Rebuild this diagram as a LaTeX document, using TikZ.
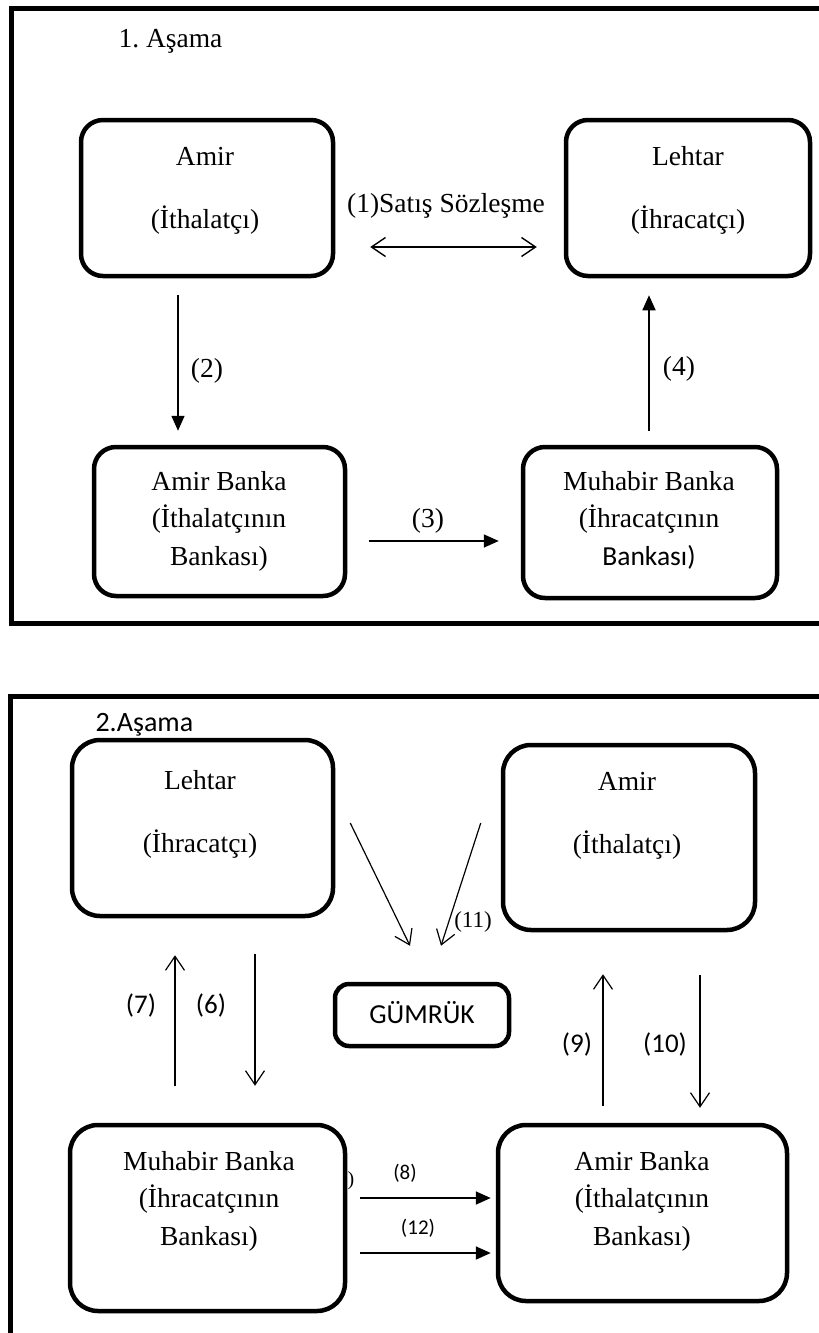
\documentclass[tikz,border=0pt]{standalone}
\usepackage{fontspec}
\setmainfont{Liberation Serif}
\newfontfamily\calibri{Carlito}
\usetikzlibrary{positioning, arrows.meta, calc}

\tikzset{
  kutu/.style={draw, line width=4.5pt, rounded corners=22pt, inner sep=0pt},
  kutub/.style={kutu, rounded corners=28pt},
  yazi/.style={align=center, anchor=base, font={\fontsize{27.5}{37.5}\selectfont}},
  ikiyazi/.style={yazi, font={\fontsize{27.5}{63}\selectfont}},
  etiket/.style={anchor=base, font={\fontsize{27.5}{33}\selectfont}},
  sans/.style={anchor=base, font={\calibri\fontsize{27}{33}\selectfont}},
  kucuk/.style={anchor=base, font={\calibri\fontsize{21}{25}\selectfont}},
  dolu/.style={line width=1.6pt, -{Triangle[length=15pt,width=13pt]}},
  acik/.style={line width=1.2pt, -{Straight Barb[length=14pt,width=19pt]}},
}

\begin{document}
\begin{tikzpicture}[x=1pt, y=1pt]
\useasboundingbox (0,0) rectangle (819,-1333);

% 1. asama
\draw[line width=5pt] (11.5,-8) rectangle (850,-623);
\node[etiket, anchor=base west] (asama1) at (115,-47) {1.\ Aşama};

\node[kutu, minimum width=252pt, minimum height=156pt] (amir1) at (207,-198) {};
\node[ikiyazi] (amir1t) at (205,-228) {Amir\\(İthalatçı)};
\node[kutu, minimum width=244pt, minimum height=156pt] (lehtar1) at (688,-198) {};
\node[ikiyazi] (lehtar1t) at (688,-228) {Lehtar\\(İhracatçı)};
\node[kutu, minimum width=251pt, minimum height=149pt] (amirbanka1) at (219.5,-521.5) {};
\node[yazi] (amirbanka1t) at (219,-565) {Amir Banka\\(İthalatçının\\Bankası)};
\node[kutu, minimum width=254pt, minimum height=151pt] (muhabir1) at (650,-522.5) {};
\node[yazi] (muhabir1t) at (649,-565) {Muhabir Banka\\(İhracatçının\\{\calibri Bankası)}};

\draw[line width=1.4pt, {Straight Barb[length=14pt,width=19pt]}-{Straight Barb[length=14pt,width=19pt]},
  shorten <=35pt, shorten >=27pt] ([yshift=-49pt]amir1.east) -- ([yshift=-49pt]lehtar1.west);
\node[etiket] (e1) at (446,-212) {(1)Satış Sözleşme};
\draw[dolu, shorten <=17pt, shorten >=14pt] ([xshift=-29pt]amir1.south) -- ([xshift=-41.5pt]amirbanka1.north);
\node[etiket] (e2) at (207,-377) {(2)};
\draw[dolu, shorten <=22pt, shorten >=22pt] ([yshift=-19.5pt]amirbanka1.east) -- ([yshift=-18.5pt]muhabir1.west);
\node[etiket] (e3) at (428,-527) {(3)};
\draw[dolu, shorten <=14pt, shorten >=17pt] ([xshift=-1pt]muhabir1.north) -- ([xshift=-39pt]lehtar1.south);
\node[etiket] (e4) at (679,-375) {(4)};

% 2. asama
\draw[line width=5pt] (850,-696) -- (10,-696) -- (10,-1350);
\node[anchor=base west, font={\calibri\fontsize{28}{33}\selectfont}] (asama2) at (92,-731) {2.Aşama};

\node[kutub, minimum width=261pt, minimum height=176pt] (lehtar2) at (202.5,-828) {};
\node[ikiyazi] (lehtar2t) at (200,-852) {Lehtar\\(İhracatçı)};
\node[kutub, minimum width=252pt, minimum height=185pt] (amir2) at (629,-837.5) {};
\node[ikiyazi] (amir2t) at (627,-853) {Amir\\(İthalatçı)};
\node[kutu, rounded corners=14pt, minimum width=174pt, minimum height=62pt] (gumruk) at (422,-1015) {};
\node[sans, font={\calibri\fontsize{27.5}{33}\selectfont}] (gumrukt) at (422,-1023) {GÜMRÜK};
\node[kutub, minimum width=275pt, minimum height=186pt] (muhabir2) at (207.5,-1218) {};
\node[yazi] (muhabir2t) at (209,-1245) {Muhabir Banka\\(İhracatçının\\Bankası)};
\node[kutub, minimum width=289pt, minimum height=176pt] (amirbanka2) at (642.5,-1213) {};
\node[yazi] (amirbanka2t) at (642,-1245) {Amir Banka\\(İthalatçının\\Bankası)};
\node[anchor=base, font={\fontsize{20}{24}\selectfont}] (parca) at (351,-1185) {)};

\draw[acik] ($(lehtar2.east)+(15,5)$) -- ($(gumruk.north)+(-12,36)$);
\draw[acik] ($(amir2.west)+(-20,14.5)$) -- ($(gumruk.north)+(19,36)$);
\node[anchor=base, font={\fontsize{23}{27}\selectfont}] (e11) at (473,-927) {(11)};
\draw[acik, shorten <=36pt, shorten >=37pt] ([xshift=52.5pt]lehtar2.south) -- ([xshift=47.5pt]muhabir2.north);
\node[sans] (e6) at (211,-1013) {(6)};
\draw[acik, shorten <=37pt, shorten >=37pt] ([xshift=-32.5pt]muhabir2.north) -- ([xshift=-27.5pt]lehtar2.south);
\node[sans] (e7) at (141,-1013) {(7)};
\draw[dolu, line width=1.8pt, shorten <=13pt, shorten >=5pt] ([yshift=20pt]muhabir2.east) -- ([yshift=15pt]amirbanka2.west);
\node[kucuk] (e8) at (405,-1179) {(8)};
\draw[acik, shorten <=17pt, shorten >=42pt] ([xshift=-39.5pt]amirbanka2.north) -- ([xshift=-26pt]amir2.south);
\node[sans] (e9) at (577,-1052) {(9)};
\draw[acik, shorten <=43pt, shorten >=15pt] ([xshift=71pt]amir2.south) -- ([xshift=57.5pt]amirbanka2.north);
\node[sans] (e10) at (665,-1052) {(10)};
\draw[dolu, line width=1.8pt, shorten <=13pt, shorten >=5pt] ([yshift=-35pt]muhabir2.east) -- ([yshift=-40pt]amirbanka2.west);
\node[kucuk] (e12) at (418,-1234) {(12)};
\end{tikzpicture}
\end{document}
